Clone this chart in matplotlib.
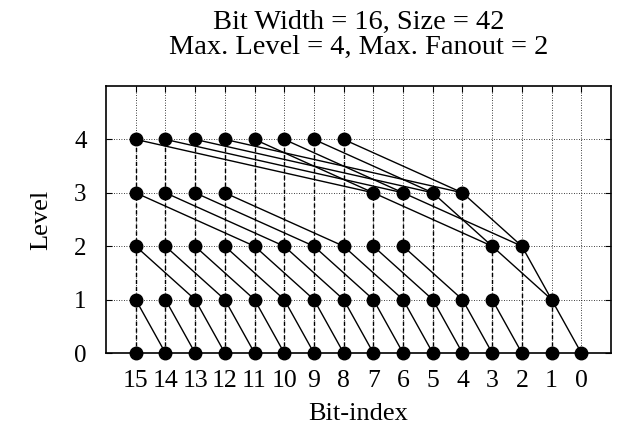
import matplotlib
matplotlib.use("Agg")
import matplotlib.pyplot as plt

# Nodes of the prefix graph: (bit, level) and the bit of the predecessor at level-1
node_bits   = [15,14,13,12,11,10,9,8,7,6,5,4,3,1,
               15,14,13,12,11,10,9,8,7,6,3,2,
               15,14,13,12,7,6,5,4,
               15,14,13,12,11,10,9,8]
node_levels = [1]*14 + [2]*12 + [3]*8 + [4]*8
pred_bits   = [14,13,12,11,10,9,8,7,6,5,4,3,2,0,
               13,12,11,10,9,8,7,6,5,4,1,1,
               11,10,9,8,3,2,3,2,
               7,6,5,4,7,6,5,4]
input_bits = list(range(16))
x_ticks = list(range(15, -1, -1))
y_ticks = [0, 1, 2, 3, 4]

plt.rcParams['font.family'] = ['Liberation Serif', 'DejaVu Serif']
plt.rcParams['font.size'] = 17

fig = plt.figure(figsize=(6.17, 4.38), dpi=100)
ax = fig.add_axes([106/617, 1-353/438, (611-106)/617, (353-86)/438])

ax.set_xlim(16, -1)
ax.set_ylim(0, 5)
ax.set_xticks(x_ticks)
ax.set_yticks(y_ticks)
ax.grid(True, linestyle=(0, (1, 2)), color='black', linewidth=0.6)
ax.set_axisbelow(True)

levels_by_bit = {b: [0] for b in input_bits}
for b, l in zip(node_bits, node_levels):
    levels_by_bit[b].append(l)

# vertical dashed lines
for b in input_bits:
    top = max(levels_by_bit[b])
    if top > 0:
        ax.plot([b, b], [0, top], color='black', linestyle=(0, (3, 2)), linewidth=1.0, zorder=2)

# diagonal edges
for b, l, p in zip(node_bits, node_levels, pred_bits):
    pl = max(v for v in levels_by_bit[p] if v < l)
    ax.plot([b, p], [l, pl], color='black', linewidth=1.0, zorder=2)

# nodes
ax.plot(input_bits, [0]*len(input_bits), 'o', color='black', markersize=9, zorder=3, clip_on=False)
ax.plot(node_bits, node_levels, 'o', color='black', markersize=9, zorder=3, clip_on=False)

ax.tick_params(direction='in', length=4, top=True, right=True, width=0.8)
ax.tick_params(axis='x', pad=12, labelsize=18.5)
ax.tick_params(axis='y', pad=14, labelsize=18)
for s in ax.spines.values():
    s.set_linewidth(1.2)

ax.set_xlabel('Bit-index', labelpad=8, fontsize=19)
ax.set_ylabel('Level', labelpad=16, fontsize=19)
ax.set_title('Bit Width = 16, Size = 42\nMax. Level = 4, Max. Fanout = 2', pad=23, linespacing=1.0)

fig.savefig('out.png', dpi=100)
